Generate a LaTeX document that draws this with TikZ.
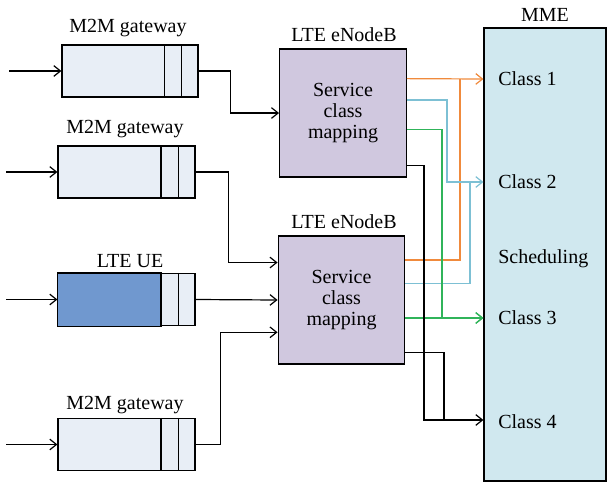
\documentclass[tikz,border=0pt]{standalone}
\usepackage{fontspec}
\setmainfont{Liberation Serif}
\usetikzlibrary{arrows.meta,calc,positioning}
\definecolor{gwfill}{RGB}{232,238,246}
\definecolor{uefill}{RGB}{112,152,207}
\definecolor{enbfill}{RGB}{208,200,223}
\definecolor{mmefill}{RGB}{208,232,239}
\definecolor{oline}{RGB}{240,138,60}
\definecolor{cline}{RGB}{125,192,212}
\definecolor{gline}{RGB}{48,180,90}
\tikzset{
  box/.style={draw, line width=0.9pt, inner sep=0pt},
  queue/.style={box, fill=gwfill, minimum width=102.75pt, minimum height=39pt},
  enb/.style={box, fill=enbfill, minimum width=95pt, minimum height=96pt, align=center},
  link/.style={line width=0.9pt},
  lbl/.style={inner sep=0pt, anchor=base},
  cls/.style={inner sep=0pt, anchor=base west},
}
\begin{document}
\begin{tikzpicture}[x=0.75pt,y=0.75pt,yscale=-1,xscale=1,
  font=\fontsize{15}{15.75}\selectfont,
  >={Straight Barb[length=5pt,width=8pt]}]
\useasboundingbox (0,0) rectangle (608,483);

% MME
\node[box, fill=mmefill, minimum width=91.5pt, minimum height=339.75pt] (mme) at (545,254.5) {};
\node[lbl] (mmelbl) at (545,21) {MME};
\node[cls] (c1) at (498,85) {Class 1};
\node[cls] (c2) at (498,188) {Class 2};
\node[cls] (sch) at (498,263) {Scheduling};
\node[cls] (c3) at (498,324) {Class 3};
\node[cls] (c4) at (498,428) {Class 4};
\coordinate (t1) at ($(mme.west |- c1.base)+(0,-6)$);
\coordinate (t2) at ($(mme.west |- c2.base)+(0,-6)$);
\coordinate (t3) at ($(mme.west |- c3.base)+(0,-6)$);
\coordinate (t4) at ($(mme.west |- c4.base)+(0,-8)$);

% eNodeBs
\node[enb] (enbA) at (343,113) {Service\\class\\mapping};
\node[lbl] (enbAlbl) at (344,41) {LTE eNodeB};
\node[enb] (enbB) at (341.5,300) {Service\\class\\mapping};
\node[lbl] (enbBlbl) at (344,228) {LTE eNodeB};

% gateways and UE
\node[queue, minimum width=102pt] (gwA) at (130,71) {};
\node[lbl] (gwAlbl) at (128,32) {M2M gateway};
\node[queue] (gwB) at (126.5,172) {};
\node[lbl] (gwBlbl) at (125,133) {M2M gateway};
\node[queue] (ue) at (126.5,299.5) {};
\node[lbl] (uelbl) at (130,267) {LTE UE};
\node[queue] (gwD) at (126.5,444.5) {};
\node[lbl] (gwDlbl) at (125,409) {M2M gateway};
\draw[line width=0.9pt, fill=uefill] (ue.north west) rectangle ($(ue.south west)!0.75!(ue.south east)$);
\foreach \g in {gwA,gwB,ue,gwD}{
  \draw[line width=0.9pt] ($(\g.north west)!0.75!(\g.north east)$) -- ($(\g.south west)!0.75!(\g.south east)$);
  \draw[line width=0.9pt] ($(\g.north west)!0.875!(\g.north east)$) -- ($(\g.south west)!0.875!(\g.south east)$);
}

% inputs
\coordinate (inA) at (9,71);
\coordinate (inB) at (6,172);
\coordinate (inU) at (6,299.5);
\coordinate (inD) at (6,444.5);
\foreach \s/\g in {inA/gwA,inB/gwB,inU/ue,inD/gwD}
  \draw[link,->] (\s) -- (\g.west);

% gateways to eNodeBs
\draw[link,->] (gwA.east) -- ++(32,0) |- (enbA.west);
\draw[link,->] (gwB.east) -- ++(33,0) |- ($(enbB.north west)!0.21!(enbB.south west)$);
\draw[link,->] (ue.east) -- (enbB.west);
\draw[link,->] (gwD.east) -- ++(25,0) |- ($(enbB.north west)!0.75!(enbB.south west)$);

% class 1
\coordinate (jO) at (460,79);
\draw[link, oline, ->] ($(enbA.north east)!0.234!(enbA.south east)$) -- (t1);
\draw[link, oline] ($(enbB.north east)!0.19!(enbB.south east)$) -| (jO);
% class 2
\coordinate (jC) at (470,182);
\draw[link, cline, ->] ($(enbA.north east)!0.40!(enbA.south east)$) -- ++(40,0) |- (t2);
\draw[link, cline] ($(enbB.north east)!0.37!(enbB.south east)$) -| (jC);
% class 3
\draw[link, gline, ->] ($(enbA.north east)!0.63!(enbA.south east)$) -- ++(35,0) |- (t3);
\draw[link, gline, ->] (enbB.east |- t3) -- (t3);
% class 4
\coordinate (jK) at (444,420);
\draw[link, ->] ($(enbA.north east)!0.906!(enbA.south east)$) -- ++(17,0) |- (t4);
\draw[link] ($(enbB.north east)!0.906!(enbB.south east)$) -| (jK);
\end{tikzpicture}
\end{document}
